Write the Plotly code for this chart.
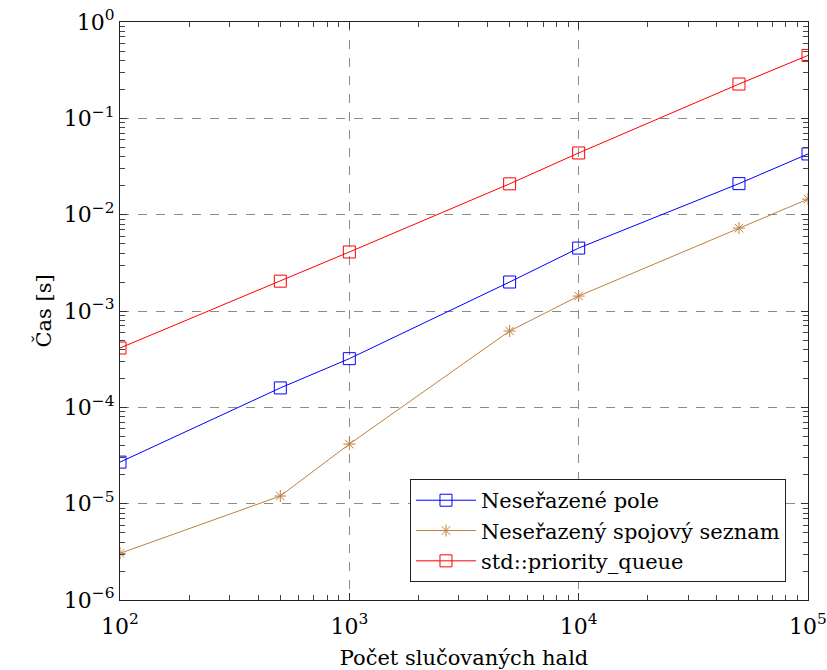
import plotly.graph_objects as go

x_vals = [100, 500, 1000, 5000, 10000, 50000, 100000]
pole = [2.7e-5, 1.59e-4, 3.2e-4, 2.0e-3, 4.5e-3, 2.1e-2, 4.27e-2]
seznam = [3.05e-6, 1.2e-5, 4.15e-5, 6.2e-4, 1.43e-3, 7.25e-3, 1.45e-2]
pq = [4.13e-4, 2.04e-3, 4.1e-3, 2.09e-2, 4.37e-2, 0.227, 0.45]
names = ["Neseřazené pole", "Neseřazený spojový seznam", "std::priority_queue"]

x_ticks = [100, 1000, 10000, 100000]
x_ticktext = ["10<sup>2</sup>", "10<sup>3</sup>", "10<sup>4</sup>", "10<sup>5</sup>"]
y_ticks = [1e-6, 1e-5, 1e-4, 1e-3, 1e-2, 1e-1, 1]
y_ticktext = ["10<sup>−6</sup>", "10<sup>−5</sup>", "10<sup>−4</sup>", "10<sup>−3</sup>",
              "10<sup>−2</sup>", "10<sup>−1</sup>", "10<sup>0</sup>"]
minor_digits = [2, 3, 4, 5, 6, 7, 8, 9]

x_minor = [d * 10 ** e for e in range(2, 5) for d in minor_digits]
y_minor = [d * 10.0 ** e for e in range(-6, 0) for d in minor_digits]

FONT = "DejaVu Serif"

fig = go.Figure()
fig.add_trace(go.Scatter(x=x_vals, y=pole, name=names[0], mode="lines+markers",
                         line=dict(color="#0000ff", width=1),
                         marker=dict(symbol="square-open", size=12, color="#0000ff", line=dict(width=1))))
fig.add_trace(go.Scatter(x=x_vals, y=seznam, name=names[1], mode="lines+markers",
                         line=dict(color="#bf8040", width=1),
                         marker=dict(symbol="asterisk-open", size=10, color="#bf8040", line=dict(width=1, color="#bf8040"))))
fig.add_trace(go.Scatter(x=x_vals, y=pq, name=names[2], mode="lines+markers",
                         line=dict(color="#ff0000", width=1),
                         marker=dict(symbol="square-open", size=12, color="#ff0000", line=dict(width=1))))

axis_common = dict(
    showline=True, linecolor="#222", linewidth=1.2, mirror="allticks",
    ticks="inside", ticklen=7, tickwidth=1.2, tickcolor="#333",
    showgrid=True, gridcolor="#8a8a8a", griddash="dash", gridwidth=1,
    zeroline=False, automargin=False,
    tickfont=dict(family=FONT, size=22, color="black"),
    title_font=dict(family=FONT, size=21, color="black"),
)

fig.update_layout(
    xaxis=dict(type="log", range=[2, 5], tickmode="array", tickvals=x_ticks, ticktext=x_ticktext,
               minor=dict(tickmode="array", tickvals=x_minor, ticks="inside", ticklen=5,
                          tickwidth=1, tickcolor="#444", showgrid=False),
               ticklabelstandoff=6,
               title_text="Počet slučovaných hald", title_standoff=12, **axis_common),
    yaxis=dict(type="log", range=[-6, 0], tickmode="array", tickvals=y_ticks, ticktext=y_ticktext,
               minor=dict(tickmode="array", tickvals=y_minor, ticks="inside", ticklen=5,
                          tickwidth=1, tickcolor="#444", showgrid=False),
               title_text="Čas [s]", title_standoff=6, **axis_common),
    width=827, height=670,
    margin=dict(l=120, r=19, t=22, b=70),
    plot_bgcolor="white", paper_bgcolor="white",
    font=dict(family=FONT, color="black"),
    legend=dict(x=0.968, y=0.031, xanchor="right", yanchor="bottom",
                bgcolor="white", bordercolor="#222", borderwidth=1,
                font=dict(family=FONT, size=21, color="black"),
                itemwidth=60, tracegroupgap=0),
    showlegend=True,
)

fig.write_html("out.html")
